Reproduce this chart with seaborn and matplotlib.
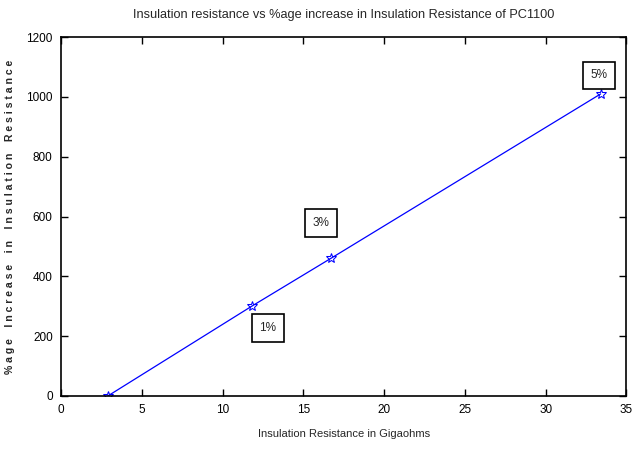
import matplotlib
matplotlib.use("Agg")
import matplotlib.pyplot as plt
import seaborn as sns
import pandas as pd

resistance = [2.9, 11.8, 16.7, 33.4]
pct_increase = [0, 300, 460, 1010]
labels = ["1%", "3%", "5%"]
label_pos = [(12.8, 227), (16.1, 578), (33.3, 1072)]

sns.set_style("white")
plt.rcParams['font.family'] = ['Liberation Sans', 'DejaVu Sans']

df = pd.DataFrame({"x": resistance, "y": pct_increase})
fig = plt.figure(figsize=(6.36, 4.53), dpi=100)
ax = fig.add_axes([0.096, 0.126, 0.889, 0.792])
sns.lineplot(data=df, x="x", y="y", ax=ax, color="blue", linewidth=0.9,
             marker="*", markersize=7, markeredgecolor="blue", markerfacecolor="none")
ax.set_xlim(0, 35)
ax.set_ylim(0, 1200)
ax.set_xticks(range(0, 36, 5))
ax.set_yticks(range(0, 1201, 200))
for s in ax.spines.values():
    s.set_color("black")
    s.set_linewidth(1.2)
ax.tick_params(direction="in", length=5, width=1, top=True, right=True,
               bottom=True, left=True, labelsize=8.5, colors="black", pad=6)
ax.set_title("Insulation resistance vs %age increase in Insulation Resistance of PC1100",
             fontsize=9.2, pad=14)
ax.set_xlabel("Insulation Resistance in Gigaohms", fontsize=8, labelpad=9)
ax.set_ylabel(" ".join("%age Increase in Insulation Resistance").replace("   ", "    "),
              fontsize=7.6, fontweight="bold", labelpad=8)
for t, (x, y) in zip(labels, label_pos):
    ax.text(x, y, t, fontsize=8.5, ha="center", va="center",
            bbox=dict(boxstyle="square,pad=0.65", fc="white", ec="black", lw=1.2))
fig.savefig("out.png", dpi=100)
